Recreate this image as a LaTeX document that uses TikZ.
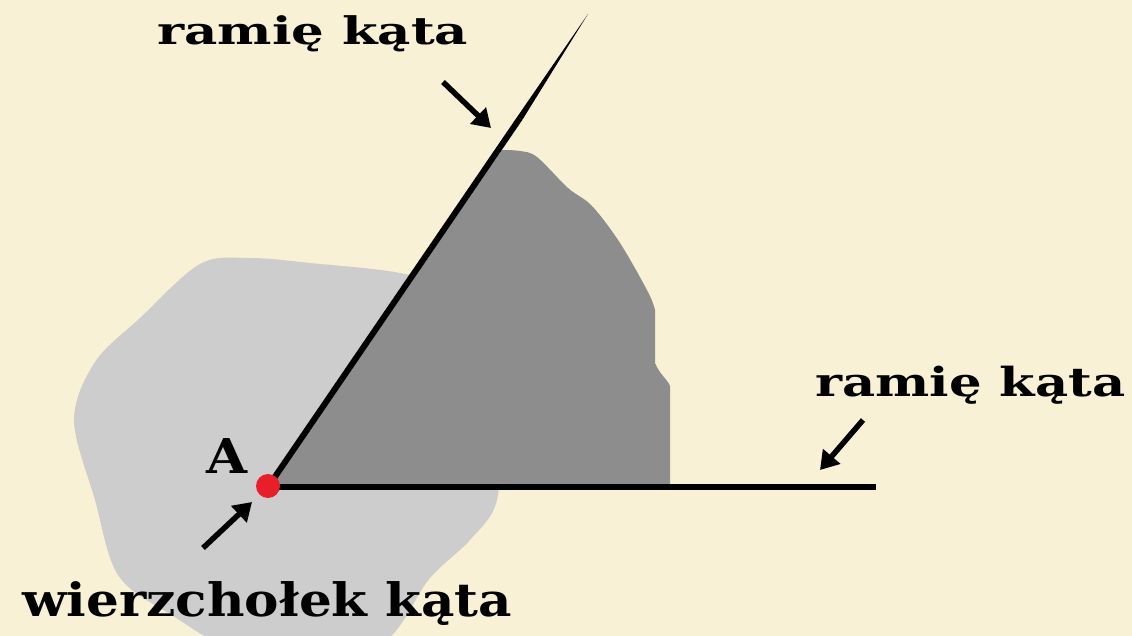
\documentclass[tikz,border=0pt]{standalone}
\usepackage{fontspec}
\usepackage{graphicx}
\usetikzlibrary{arrows.meta}
\newfontfamily\lblfont{DejaVu Serif}[BoldFont={DejaVu Serif Bold}]
\definecolor{bgcream}{RGB}{249,241,214}
\definecolor{lightgr}{RGB}{205,205,205}
\definecolor{darkgr}{RGB}{141,141,141}
\definecolor{dotred}{RGB}{232,30,40}
\tikzset{
  ray/.style={line width=6pt, line cap=butt},
  pointer/.style={line width=5.5pt, -{Triangle[length=18pt,width=22pt]}},
  lbl/.style={inner sep=0pt, anchor=base west, font=\lblfont\bfseries},
}
\begin{document}
\begin{tikzpicture}[x=1pt,y=-1pt]
\fill[bgcream] (0,0) rectangle (1132,636);
\useasboundingbox (0,0) rectangle (1132,636);
% light gray blob
\fill[lightgr] plot[smooth cycle, tension=0.55] coordinates {
 (200,264) (250,258) (310,263) (405,274) (480,300)
 (497,420) (497,500) (470,540) (430,578) (372,650)
 (242,650) (170,614) (118,575) (95,500) (74,420) (95,362) (140,318)};
% dark gray region
\coordinate (A) at (268,487);
\fill[darkgr] (A) -- (502,150)
  -- plot[smooth, tension=0.55] coordinates {(502,150) (520,151) (537,157) (568,188) (592,206) (620,243) (648,292) (655,310)}
  -- (655,363) .. controls (660,375) and (668,380) .. (670,386) -- (670,487) -- cycle;
% rays
\coordinate (B) at (520,118);
\coordinate (T) at (588,14);
\coordinate (E) at (876,487);
\draw[ray] (A) -- (B);
\fill (517.5,116.4) -- (522.5,119.6) -- (T) -- cycle;
\draw[ray] (A) -- (E);
% vertex
\fill[dotred] (268,486) circle (12);
% labels
\node[lbl, font=\lblfont\bfseries\fontsize{38}{38}\selectfont] (t1) at (157,45) {\resizebox{311pt}{\height}{ramię kąta}};
\node[lbl, font=\lblfont\bfseries\fontsize{40}{40}\selectfont] (t2) at (815,396) {\resizebox{310pt}{\height}{ramię kąta}};
\node[lbl, font=\lblfont\bfseries\fontsize{46}{46}\selectfont] (t3) at (22,616) {\resizebox{490pt}{\height}{wierzchołek kąta}};
\node[lbl, font=\lblfont\bfseries\fontsize{48}{48}\selectfont] (lA) at (206,473) {\resizebox{41pt}{\height}{A}};
% pointers
\coordinate (p1s) at (443,82);  \coordinate (p1e) at (491,128);
\coordinate (p2s) at (863,420); \coordinate (p2e) at (820,470);
\coordinate (p3s) at (203,548); \coordinate (p3e) at (252,502);
\draw[pointer] (p1s) -- (p1e);
\draw[pointer] (p2s) -- (p2e);
\draw[pointer] (p3s) -- (p3e);
\end{tikzpicture}
\end{document}
